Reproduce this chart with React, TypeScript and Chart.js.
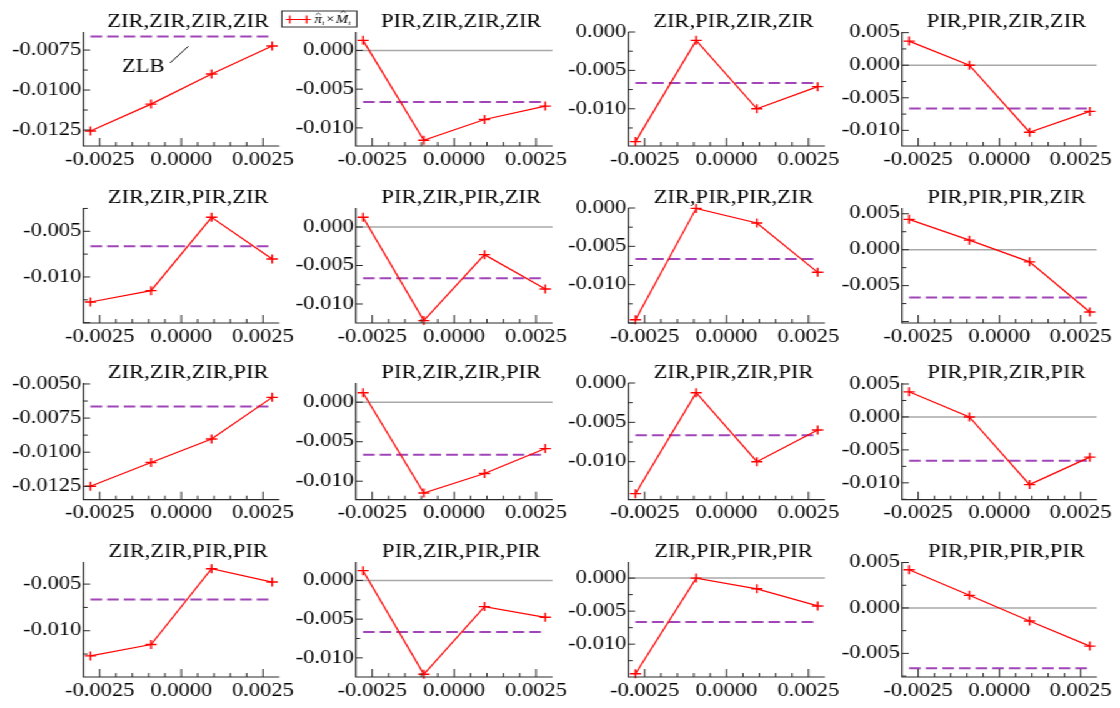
import React, { useEffect, useRef } from "react";
import { Chart, registerables } from "chart.js";
Chart.register(...registerables);

// ---------------- data ----------------
const TITLES = [
  "ZIR,ZIR,ZIR,ZIR", "PIR,ZIR,ZIR,ZIR", "ZIR,PIR,ZIR,ZIR", "PIR,PIR,ZIR,ZIR",
  "ZIR,ZIR,PIR,ZIR", "PIR,ZIR,PIR,ZIR", "ZIR,PIR,PIR,ZIR", "PIR,PIR,PIR,ZIR",
  "ZIR,ZIR,ZIR,PIR", "PIR,ZIR,ZIR,PIR", "ZIR,PIR,ZIR,PIR", "PIR,PIR,ZIR,PIR",
  "ZIR,ZIR,PIR,PIR", "PIR,ZIR,PIR,PIR", "ZIR,PIR,PIR,PIR", "PIR,PIR,PIR,PIR",
];

const X_POINTS = [-0.00278, -0.000926, 0.000926, 0.00278];
const X_TICKS = [-0.0025, 0.0, 0.0025];
const X_MIN = -0.003;
const X_MAX = 0.003;
const ZLB = -0.00665;

const ZIR_ZIR_ZIR_ZIR = [-0.01256, -0.01088, -0.0090, -0.00725];
const PIR_ZIR_ZIR_ZIR = [0.0013, -0.0116, -0.00892, -0.00719];
const ZIR_PIR_ZIR_ZIR = [-0.01428, -0.00109, -0.0100, -0.00712];
const PIR_PIR_ZIR_ZIR = [0.0037, 0.0000, -0.01028, -0.00709];
const ZIR_ZIR_PIR_ZIR = [-0.01274, -0.0115, -0.00347, -0.00803];
const PIR_ZIR_PIR_ZIR = [0.00126, -0.01216, -0.00359, -0.00805];
const ZIR_PIR_PIR_ZIR = [-0.01457, -0.00005, -0.00196, -0.00839];
const PIR_PIR_PIR_ZIR = [0.00422, 0.00133, -0.00169, -0.00867];
const ZIR_ZIR_ZIR_PIR = [-0.0125, -0.01075, -0.00903, -0.00598];
const PIR_ZIR_ZIR_PIR = [0.0012, -0.01149, -0.00902, -0.00587];
const ZIR_PIR_ZIR_PIR = [-0.01406, -0.00124, -0.0100, -0.00598];
const PIR_PIR_ZIR_PIR = [0.00381, 0.0, -0.01027, -0.0061];
const ZIR_ZIR_PIR_PIR = [-0.0127, -0.01148, -0.00335, -0.00478];
const PIR_ZIR_PIR_PIR = [0.00126, -0.01212, -0.00338, -0.00476];
const ZIR_PIR_PIR_PIR = [-0.01447, 0.0, -0.00162, -0.00421];
const PIR_PIR_PIR_PIR = [0.00421, 0.00139, -0.00143, -0.0042];

const SERIES = [
  ZIR_ZIR_ZIR_ZIR, PIR_ZIR_ZIR_ZIR, ZIR_PIR_ZIR_ZIR, PIR_PIR_ZIR_ZIR,
  ZIR_ZIR_PIR_ZIR, PIR_ZIR_PIR_ZIR, ZIR_PIR_PIR_ZIR, PIR_PIR_PIR_ZIR,
  ZIR_ZIR_ZIR_PIR, PIR_ZIR_ZIR_PIR, ZIR_PIR_ZIR_PIR, PIR_PIR_ZIR_PIR,
  ZIR_ZIR_PIR_PIR, PIR_ZIR_PIR_PIR, ZIR_PIR_PIR_PIR, PIR_PIR_PIR_PIR,
];

const Y_MIN = [
  -0.0135, -0.01234, -0.01485, -0.0124,
  -0.01504, -0.01247, -0.0150, -0.0102,
  -0.01348, -0.01234, -0.01483, -0.01256,
  -0.01496, -0.01247, -0.01497, -0.0076,
];
const Y_MAX = [
  -0.00637, 0.00238, 0.0, 0.0051,
  -0.00245, 0.00247, 0.0, 0.0058,
  -0.00493, 0.00243, 0.0, 0.00515,
  -0.00263, 0.00238, 0.00244, 0.00506,
];

const Y_TICKS = [
  [-0.0125, -0.01, -0.0075], [-0.01, -0.005, 0], [-0.01, -0.005, 0], [-0.01, -0.005, 0, 0.005],
  [-0.01, -0.005], [-0.01, -0.005, 0], [-0.01, -0.005, 0], [-0.005, 0, 0.005],
  [-0.0125, -0.01, -0.0075, -0.005], [-0.01, -0.005, 0], [-0.01, -0.005, 0], [-0.01, -0.005, 0, 0.005],
  [-0.01, -0.005], [-0.01, -0.005, 0], [-0.01, -0.005, 0], [-0.005, 0, 0.005],
];

// ---------------- layout / style ----------------
const SX = 1.25; // horizontal stretch of the whole figure
const FONT = "'Liberation Serif', 'Times New Roman', serif";
const FONT_SIZE = 18;
const RED = "#ff0000";
const PURPLE = "#a044b8";
const GRAY = "#a8a8a8";
const AXIS = "#2a2a2a";

Chart.defaults.font.family = FONT;
Chart.defaults.font.size = FONT_SIZE;
Chart.defaults.color = "#000";

const COL_LEFT = [83.3, 356, 628.3, 902];
const COL_RIGHT = [279.3, 552.7, 825, 1097];
const ROW_TOP = [31.7, 208.3, 383.3, 561.7];
const ROW_BOTTOM = [145.7, 323.3, 500, 676.7];
const AXIS_W = 82; // final px
const TITLE_H = 32;
const RIGHT_PAD = 26; // final px
const XAXIS_H = 30;

function drawLegend(ctx: CanvasRenderingContext2D, x0: number, y0: number, w: number, h: number) {
  ctx.save();
  ctx.strokeStyle = "#333";
  ctx.lineWidth = 1;
  ctx.strokeRect(x0, y0, w, h);
  const cy = y0 + h / 2 + 0.5;
  ctx.strokeStyle = RED;
  ctx.lineWidth = 1.2;
  ctx.beginPath();
  ctx.moveTo(x0 + 3.6, cy);
  ctx.lineTo(x0 + 23.2, cy);
  for (const px of [x0 + 6.4, x0 + 19.8]) {
    ctx.moveTo(px - 3.2, cy);
    ctx.lineTo(px + 3.2, cy);
    ctx.moveTo(px, cy - 4);
    ctx.lineTo(px, cy + 4);
  }
  ctx.stroke();
  ctx.fillStyle = "#000";
  ctx.strokeStyle = "#000";
  ctx.lineWidth = 0.7;
  ctx.textAlign = "left";
  ctx.textBaseline = "alphabetic";
  let tx = x0 + 26.2;
  const base = y0 + h - 4.5;
  const hat = (cx: number, top: number) => {
    ctx.beginPath();
    ctx.moveTo(cx - 2, top + 1.8);
    ctx.lineTo(cx, top);
    ctx.lineTo(cx + 2, top + 1.8);
    ctx.stroke();
  };
  ctx.font = `italic 12px ${FONT}`;
  ctx.fillText("π", tx, base);
  let wv = ctx.measureText("π").width;
  hat(tx + wv / 2, base - 9.5);
  tx += wv;
  ctx.font = `italic 7px ${FONT}`;
  ctx.fillText("t", tx, base + 2.5);
  tx += ctx.measureText("t").width + 1.2;
  ctx.font = `12px ${FONT}`;
  ctx.fillText("×", tx, base);
  tx += ctx.measureText("×").width + 1;
  ctx.font = `italic 12px ${FONT}`;
  ctx.fillText("M", tx, base);
  wv = ctx.measureText("M").width;
  hat(tx + wv / 2 + 1, base - 11.5);
  tx += wv;
  ctx.font = `italic 7px ${FONT}`;
  ctx.fillText("t", tx, base + 2.5);
  ctx.restore();
}

function makeDeco(idx: number) {
  return {
    id: "deco" + idx,
    afterDraw(chart: any) {
      const { ctx, chartArea: ca } = chart;
      const xs = chart.scales.x;
      const ys = chart.scales.y;
      ctx.save();
      ctx.strokeStyle = AXIS;
      ctx.lineWidth = 1.2;
      ctx.beginPath();
      ctx.moveTo(ca.left, ca.top);
      ctx.lineTo(ca.left, ca.bottom);
      ctx.lineTo(ca.right, ca.bottom);
      ctx.stroke();
      ctx.lineWidth = 1;
      ctx.beginPath();
      for (let k = -5; k <= 5; k++) {
        const v = k * 0.0005;
        const px = xs.getPixelForValue(v);
        const len = k % 5 === 0 ? 8 : 4;
        ctx.moveTo(px, ca.bottom);
        ctx.lineTo(px, ca.bottom - len);
      }
      const yt = Y_TICKS[idx];
      const step = yt[1] - yt[0];
      const ms = step / 2;
      const k0 = Math.ceil(Y_MIN[idx] / ms - 1e-6);
      const k1 = Math.floor(Y_MAX[idx] / ms + 1e-6);
      for (let k = k0; k <= k1; k++) {
        const major = k % 2 === 0;
        const py = ys.getPixelForValue(k * ms);
        ctx.moveTo(ca.left, py);
        ctx.lineTo(ca.left + (major ? 5.5 : 3.5), py);
      }
      ctx.stroke();
      ctx.fillStyle = "#000";
      ctx.font = `${FONT_SIZE}px ${FONT}`;
      ctx.textAlign = "center";
      ctx.textBaseline = "alphabetic";
      ctx.fillText(TITLES[idx], (ca.left + ca.right) / 2 + 7 / SX, ca.top - 5);
      if (idx === 0) {
        ctx.textAlign = "left";
        ctx.fillText("ZLB", ca.left + 38.7 / SX, ca.top + 40.3);
        ctx.strokeStyle = "#000";
        ctx.lineWidth = 0.9;
        ctx.beginPath();
        ctx.moveTo(ca.left + 86.7 / SX, ca.top + 31);
        ctx.lineTo(ca.left + 105 / SX, ca.top + 14.3);
        ctx.stroke();
      }
      if (idx === 1) {
        drawLegend(ctx, 8 / SX, 11, 75 / SX, 16);
      }
      ctx.restore();
    },
  };
}

function Panel({ idx }: { idx: number }) {
  const ref = useRef<HTMLCanvasElement>(null);
  const r = Math.floor(idx / 4);
  const c = idx % 4;
  const L = COL_LEFT[c], R = COL_RIGHT[c], T = ROW_TOP[r], B = ROW_BOTTOM[r];
  const left = (L - AXIS_W) / SX;
  const top = T - TITLE_H;
  const width = Math.round((R - L + AXIS_W + RIGHT_PAD) / SX);
  const height = Math.round(B - T + TITLE_H + XAXIS_H);

  useEffect(() => {
    if (!ref.current) return;
    const plotW = (R - L) / SX;
    const plotH = B - T;
    const padRight = width - AXIS_W / SX - plotW;
    const xAxisH = height - TITLE_H - plotH;
    const yt = Y_TICKS[idx];
    const dec = yt[1] - yt[0] < 0.004 ? 4 : 3;
    const datasets: any[] = [
      {
        data: X_POINTS.map((x, i) => ({ x, y: SERIES[idx][i] })),
        borderColor: RED,
        backgroundColor: RED,
        borderWidth: 1.2,
        pointStyle: "cross",
        pointRadius: 4.5,
        pointBorderWidth: 1.4,
        pointBorderColor: RED,
        clip: false,
        tension: 0,
      },
      {
        data: X_POINTS.map((x) => ({ x, y: ZLB })),
        borderColor: PURPLE,
        borderWidth: 2,
        borderDash: [9.3, 4],
        pointRadius: 0,
      },
    ];
    if (Y_MAX[idx] > 0.0003 && Y_MIN[idx] < 0) {
      datasets.push({
        data: [
          { x: X_MIN, y: 0 },
          { x: X_MAX, y: 0 },
        ],
        borderColor: GRAY,
        borderWidth: 1.5,
        pointRadius: 0,
      });
    }
    const chart = new Chart(ref.current, {
      type: "line",
      data: { datasets },
      options: {
        animation: false,
        responsive: false,
        devicePixelRatio: 1,
        events: [],
        font: { family: FONT, size: FONT_SIZE },
        layout: { padding: { left: 0, top: TITLE_H, right: padRight, bottom: 0 } },
        plugins: { legend: { display: false }, tooltip: { enabled: false }, title: { display: false } },
        scales: {
          x: {
            type: "linear",
            min: X_MIN,
            max: X_MAX,
            grid: { display: false, drawTicks: false },
            border: { display: false },
            afterBuildTicks: (s: any) => {
              s.ticks = X_TICKS.map((v) => ({ value: v }));
            },
            afterFit: (s: any) => {
              s.height = xAxisH;
            },
            ticks: {
              font: { family: FONT, size: FONT_SIZE },
              color: "#000",
              padding: 3,
              maxRotation: 0,
              autoSkip: false,
              callback: (v: any) => Number(v).toFixed(4),
            },
          },
          y: {
            type: "linear",
            min: Y_MIN[idx],
            max: Y_MAX[idx],
            grid: { display: false, drawTicks: false },
            border: { display: false },
            afterBuildTicks: (s: any) => {
              s.ticks = yt.map((v) => ({ value: v }));
            },
            afterFit: (s: any) => {
              s.width = AXIS_W / SX;
            },
            ticks: {
              font: { family: FONT, size: FONT_SIZE },
              color: "#000",
              padding: 1.5,
              autoSkip: false,
              callback: (v: any) => Number(v).toFixed(dec),
            },
          },
        },
      } as any,
      plugins: [makeDeco(idx)],
    });
    return () => chart.destroy();
  }, []);

  return (
    <canvas
      ref={ref}
      width={width}
      height={height}
      style={{ position: "absolute", left, top, width, height }}
    />
  );
}

export default function App() {
  return (
    <div
      style={{
        position: "absolute",
        left: 0,
        top: 0,
        width: 1120 / SX,
        height: 708,
        background: "#fff",
        transform: `scaleX(${SX})`,
        transformOrigin: "0 0",
        overflow: "hidden",
      }}
    >
      {TITLES.map((_, i) => (
        <Panel key={i} idx={i} />
      ))}
    </div>
  );
}
